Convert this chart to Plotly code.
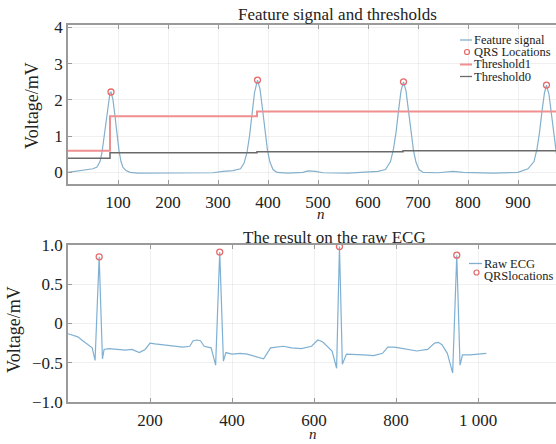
import plotly.graph_objects as go

# ---------------- data ----------------
feat_x = [0, 20, 40, 50, 58, 64, 68, 72, 76, 80, 84, 86, 90, 94, 98, 102, 106, 110, 116, 124,
          140, 180, 220, 260, 290, 310, 330, 345,
          352, 358, 363, 368, 373, 379, 384, 389, 394, 399, 404, 410, 418,
          440, 470, 480, 495, 510, 560, 600, 620, 635,
          645, 651, 656, 661, 666, 671, 676, 681, 686, 691, 696, 702, 710,
          740, 770, 790, 850, 900, 920,
          932, 938, 943, 948, 953, 957, 962, 967, 972, 977, 982, 988, 995]
feat_y = [0.0, 0.04, 0.08, 0.1, 0.15, 0.3, 0.55, 0.95, 1.45, 1.9, 2.2, 2.22, 2.0, 1.55, 1.05, 0.6, 0.3, 0.14, 0.05, 0.0,
          -0.02, -0.02, -0.02, -0.01, -0.01, 0.03, 0.05, 0.1,
          0.25, 0.55, 1.0, 1.6, 2.2, 2.55, 2.3, 1.75, 1.15, 0.6, 0.28, 0.08, 0.0,
          -0.02, 0.0, 0.04, 0.03, -0.01, -0.02, 0.0, 0.03, 0.08,
          0.3, 0.65, 1.1, 1.7, 2.25, 2.5, 2.25, 1.7, 1.1, 0.6, 0.28, 0.08, 0.0,
          -0.01, 0.03, 0.0, -0.02, 0.0, 0.1,
          0.3, 0.65, 1.1, 1.7, 2.2, 2.41, 2.15, 1.6, 1.0, 0.5, 0.2, 0.06, 0.0]

qrs_feat_x = [86, 379, 671, 957]
qrs_feat_y = [2.22, 2.55, 2.50, 2.41]

thr1_x = [0, 84, 378, 1075]
thr1_y = [0.60, 1.55, 1.68, 1.68]
thr0_x = [0, 84, 378, 670, 1075]
thr0_y = [0.39, 0.54, 0.57, 0.60, 0.60]

ecg_x = [0, 12, 24, 36, 50, 59, 66, 76, 84, 88, 100, 120, 140, 156, 174, 188, 200, 212, 226, 244, 262, 280, 297,
         305, 314, 323, 332, 349, 360, 370, 379, 385, 400, 420, 437, 455, 477, 494, 510, 525, 545, 569, 594,
         609, 615, 622, 644, 655, 662, 669, 679, 700, 720, 745, 767, 780, 795, 807, 830, 851, 877, 894, 903,
         912, 925, 938, 948, 956, 962, 980, 1000, 1020]
ecg_y = [-0.13, -0.15, -0.17, -0.22, -0.27, -0.31, -0.47, 0.85, -0.45, -0.33, -0.32, -0.33, -0.34, -0.33, -0.37,
         -0.33, -0.25, -0.26, -0.27, -0.28, -0.29, -0.30, -0.29,
         -0.22, -0.21, -0.22, -0.29, -0.31, -0.53, 0.91, -0.48, -0.37, -0.39, -0.38, -0.39, -0.42, -0.45,
         -0.31, -0.30, -0.29, -0.31, -0.32, -0.29,
         -0.21, -0.22, -0.24, -0.35, -0.57, 0.98, -0.52, -0.39, -0.40, -0.40, -0.41, -0.38, -0.30, -0.30, -0.31,
         -0.33, -0.35, -0.33, -0.25, -0.24, -0.27, -0.38, -0.63, 0.87, -0.53, -0.40, -0.40, -0.39, -0.38]

qrs_ecg_x = [76, 370, 662, 948]
qrs_ecg_y = [0.85, 0.91, 0.98, 0.87]

top_ticks = [0, 100, 200, 300, 400, 500, 600, 700, 800, 900]
top_ticktext = ["", "100", "200", "300", "400", "500", "600", "700", "800", "900"]
top_yticks = [0, 1, 2, 3, 4]
bot_ticks = [200, 400, 600, 800, 1000]
bot_ticktext = ["200", "400", "600", "800", "1 000"]
bot_yticks = [-1.0, -0.5, 0, 0.5, 1.0]
bot_yticktext = ["\u22121.0", "\u22120.5", "0", "0.5", "1.0"]

# ---------------- styling ----------------
W, H = 556, 444
ML, MR, MT, MB = 68, 0, 25, 42
PW = W - ML - MR
PH = H - MT - MB
FONT = "Liberation Serif, Times New Roman, serif"
C_FEAT = "#84b0cb"
C_ECG = "#7fb0d3"
C_RED = "#ef8f8f"
C_MARK = "#e66a6a"
C_GRAY = "#6a6a6a"
C_FRAME = "#9a9a9a"


def px(xp):
    return (xp - ML) / PW


def py(yp):
    return (H - MB - yp) / PH


fig = go.Figure()
fig.add_trace(go.Scatter(x=feat_x, y=feat_y, mode="lines", line=dict(color=C_FEAT, width=1.2),
                         xaxis="x", yaxis="y", showlegend=False))
fig.add_trace(go.Scatter(x=thr1_x, y=thr1_y, mode="lines", line=dict(color=C_RED, width=2, shape="hv"),
                         xaxis="x", yaxis="y", showlegend=False))
fig.add_trace(go.Scatter(x=thr0_x, y=thr0_y, mode="lines", line=dict(color=C_GRAY, width=1.5, shape="hv"),
                         xaxis="x", yaxis="y", showlegend=False))
fig.add_trace(go.Scatter(x=qrs_feat_x, y=qrs_feat_y, mode="markers",
                         marker=dict(symbol="circle-open", size=6, color=C_MARK, line=dict(width=1.3)),
                         xaxis="x", yaxis="y", showlegend=False))

fig.add_trace(go.Scatter(x=ecg_x, y=ecg_y, mode="lines", line=dict(color=C_ECG, width=1.2),
                         xaxis="x2", yaxis="y2", showlegend=False))
fig.add_trace(go.Scatter(x=qrs_ecg_x, y=qrs_ecg_y, mode="markers",
                         marker=dict(symbol="circle-open", size=6, color=C_MARK, line=dict(width=1.3)),
                         xaxis="x2", yaxis="y2", showlegend=False))

top_dom = [py(184), py(25)]
bot_dom = [py(402), py(245)]

axis_common = dict(showline=True, linecolor=C_FRAME, linewidth=1.5, ticks="inside", ticklen=4,
                   tickcolor=C_FRAME, showgrid=True, gridcolor="rgba(0,0,0,0.06)", zeroline=False,
                   automargin=False, tickfont=dict(family=FONT, size=17, color="#222"))

fig.update_layout(
    width=W, height=H, margin=dict(l=ML, r=MR, t=MT, b=MB, autoexpand=False),
    paper_bgcolor="white", plot_bgcolor="white", showlegend=False,
    xaxis=dict(domain=[0, 1], range=[0, 976], tickvals=top_ticks, ticktext=top_ticktext,
               anchor="y", mirror="ticks", ticklabelstandoff=2, **axis_common),
    yaxis=dict(domain=top_dom, range=[-0.32, 4.07], tickvals=top_yticks, anchor="x", **axis_common),
    xaxis2=dict(domain=[0, 1], range=[0, 1190], tickvals=bot_ticks, ticktext=bot_ticktext,
                anchor="y2", mirror="ticks", ticklabelstandoff=2, **axis_common),
    yaxis2=dict(domain=bot_dom, range=[-1.0, 1.0], tickvals=bot_yticks, ticktext=bot_yticktext,
                anchor="x2", **axis_common),
)

ann = []
# titles
ann.append(dict(text="Feature signal and thresholds", x=px(337), y=py(15), xref="paper", yref="paper",
                showarrow=False, font=dict(family=FONT, size=17, color="#222"), xanchor="center", yanchor="middle"))
ann.append(dict(text="The result on the raw ECG", x=px(334), y=py(237), xref="paper", yref="paper",
                showarrow=False, font=dict(family=FONT, size=17, color="#222"), xanchor="center", yanchor="middle"))
# axis titles
ann.append(dict(text="Voltage/mV", x=px(32), y=py(106), xref="paper", yref="paper", textangle=-90,
                showarrow=False, font=dict(family=FONT, size=18, color="#222"), xanchor="center", yanchor="middle"))
ann.append(dict(text="Voltage/mV", x=px(14), y=py(330), xref="paper", yref="paper", textangle=-90,
                showarrow=False, font=dict(family=FONT, size=18, color="#222"), xanchor="center", yanchor="middle"))
ann.append(dict(text="<i>n</i>", x=px(321), y=py(205), xref="paper", yref="paper", borderpad=0,
                showarrow=False, font=dict(family=FONT, size=15, color="#222"), xanchor="center", yanchor="top"))
ann.append(dict(text="<i>n</i>", x=px(313), y=py(425), xref="paper", yref="paper", borderpad=0,
                showarrow=False, font=dict(family=FONT, size=15, color="#222"), xanchor="center", yanchor="top"))

# manual legends
top_leg = [("Feature signal", 40, "line", C_FEAT), ("QRS Locations", 52, "circle", C_MARK),
           ("Threshold1", 64.5, "line", C_RED), ("Threshold0", 76.5, "line", C_GRAY)]
bot_leg = [("Raw ECG", 263.5, "line", C_ECG), ("QRSlocations", 275.5, "circle", C_MARK)]

shapes = []
for items, x0, x1, tx in [(top_leg, 460, 472, 472.5), (bot_leg, 469, 482, 482.5)]:
    for label, yy, kind, col in items:
        ann.append(dict(text=label, x=px(tx), y=py(yy), xref="paper", yref="paper", showarrow=False,
                        borderpad=0,
                        font=dict(family=FONT, size=12.5, color="#222"), xanchor="left", yanchor="middle"))
        if kind == "line":
            shapes.append(dict(type="line", xref="paper", yref="paper", x0=px(x0), x1=px(x1),
                               y0=py(yy), y1=py(yy),
                               line=dict(color=col, width=2 if col == C_RED else 1.3)))
        else:
            cx = (x0 + x1) / 2 + 1
            cy = yy - 3 if items is bot_leg else yy
            shapes.append(dict(type="circle", xref="paper", yref="paper", x0=px(cx - 2.5), x1=px(cx + 2.5),
                               y0=py(cy + 2.5), y1=py(cy - 2.5), line=dict(color=col, width=1.2)))

fig.update_layout(annotations=ann, shapes=shapes)
fig.write_html("out.html", config={"displayModeBar": False},
               post_script="document.body.style.margin='0';document.body.style.overflow='hidden';")
